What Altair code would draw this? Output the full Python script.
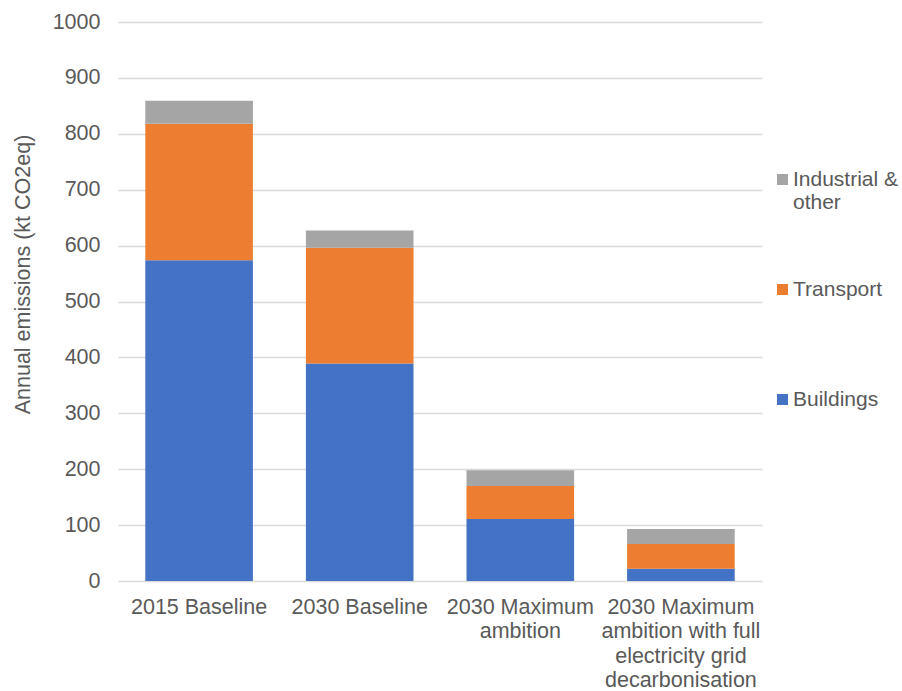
import json
import altair as alt
import pandas as pd

categories = [
    "2015 Baseline",
    "2030 Baseline",
    "2030 Maximum ambition",
    "2030 Maximum ambition with full electricity grid decarbonisation",
]
category_lines = [
    ["2015 Baseline"],
    ["2030 Baseline"],
    ["2030 Maximum", "ambition"],
    ["2030 Maximum", "ambition with full", "electricity grid", "decarbonisation"],
]
series = ["Buildings", "Transport", "Industrial & other"]
buildings = [574, 389, 111, 22]
transport = [244, 207, 59, 44]
industrial = [41, 31, 28, 27]
colors = ["#4472C4", "#ED7D31", "#A5A5A5"]
y_ticks = [0, 100, 200, 300, 400, 500, 600, 700, 800, 900, 1000]

rows = []
for i, c in enumerate(categories):
    for j, (s, vals) in enumerate(zip(series, [buildings, transport, industrial])):
        rows.append({"category": c, "series": s, "value": vals[i], "stack": j})
df = pd.DataFrame(rows)

# label expressions for multi-line text
x_expr = "datum.value"
for c, lines in zip(categories, category_lines):
    x_expr = f"datum.value == {json.dumps(c)} ? {json.dumps(lines)} : (" + x_expr + ")"
leg_expr = "datum.label == 'Industrial & other' ? ['Industrial &', 'other'] : datum.label"

FONT = "Liberation Sans"
TXT = "#595959"
FS = 21.5

chart = (
    alt.Chart(df)
    .mark_bar()
    .encode(
        x=alt.X(
            "category:N",
            sort=categories,
            scale=alt.Scale(paddingInner=0.33, paddingOuter=0.17),
            axis=alt.Axis(
                title=None,
                labelAngle=0,
                labelExpr=x_expr,
                labelFontSize=FS,
                labelFont=FONT,
                labelColor=TXT,
                labelLineHeight=24.5,
                labelBaseline="top",
                labelPadding=15,
                ticks=False,
                domain=False,
                labelLimit=400,
            ),
        ),
        y=alt.Y(
            "value:Q",
            stack="zero",
            scale=alt.Scale(domain=[0, 1000], nice=False),
            axis=alt.Axis(
                title="Annual emissions (kt CO2eq)",
                values=y_ticks,
                format="d",
                labelFontSize=FS,
                labelFont=FONT,
                labelColor=TXT,
                labelPadding=18,
                ticks=False,
                tickSize=0,
                domain=False,
                gridColor="#D9D9D9",
                gridWidth=1.5,
                titleFont=FONT,
                titleFontSize=FS,
                titleFontWeight="normal",
                titleColor=TXT,
                titleX=-95,
                titleY=252,
                titleAlign="center",
                titleBaseline="middle",
            ),
        ),
        color=alt.Color(
            "series:N",
            scale=alt.Scale(domain=series, range=colors),
            sort=["Industrial & other", "Transport", "Buildings"],
            legend=alt.Legend(
                title=None,
                orient="none",
                legendX=654,
                legendY=147,
                padding=0,
                symbolType="square",
                symbolSize=121,
                symbolStrokeWidth=0,
                labelFont=FONT,
                labelFontSize=21,
                labelColor=TXT,
                labelExpr=leg_expr,
                labelOffset=0,
                rowPadding=65,
                gridAlign="all",
                labelLimit=200,
                values=["Industrial & other", "Transport", "Buildings"],
            ),
        ),
        order=alt.Order("stack:Q", sort="ascending"),
    )
    .properties(
        width=644,
        height=559,
        autosize=alt.AutoSizeParams(type="none"),
        padding={"left": 118, "top": 22, "right": 140, "bottom": 110},
    )
    .configure_view(stroke=None)
)

chart.save("out.html", embed_options={"renderer": "svg", "actions": False})
